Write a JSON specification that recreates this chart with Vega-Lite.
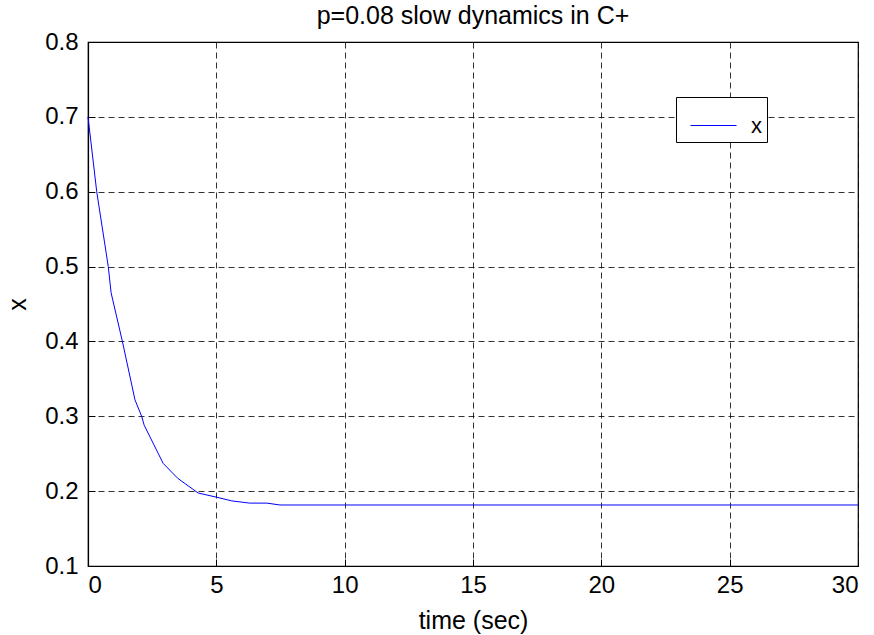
{
  "$schema": "https://vega.github.io/schema/vega-lite/v6.json",
  "autosize": {"type": "none"},
  "padding": {"left": 88, "top": 42, "right": 16, "bottom": 69},
  "width": 770,
  "height": 524,
  "background": "white",
  "title": {
    "text": "p=0.08 slow dynamics in C+",
    "font": "Liberation Sans",
    "fontSize": 25,
    "fontWeight": "normal",
    "color": "black",
    "anchor": "middle",
    "baseline": "bottom",
    "offset": 0,
    "dy": 24
  },
  "config": {
    "view": {"stroke": "black", "strokeWidth": 1.2},
    "axis": {
      "domainColor": "black",
      "domainWidth": 1.2,
      "grid": true,
      "gridColor": "black",
      "gridDash": [6, 4],
      "gridOpacity": 0.8,
      "gridWidth": 1,
      "ticks": true,
      "tickSize": -7,
      "tickColor": "black",
      "tickWidth": 1,
      "labelFont": "Liberation Sans",
      "labelFontSize": 24,
      "labelColor": "black",
      "titleFont": "Liberation Sans",
      "titleFontSize": 25,
      "titleFontWeight": "normal",
      "titleColor": "black"
    }
  },
  "data": {
    "values": [
      {"t": 0, "v": 0.7, "series": "x"},
      {"t": 0.34, "v": 0.6, "series": "x"},
      {"t": 0.79, "v": 0.5, "series": "x"},
      {"t": 0.9, "v": 0.465, "series": "x"},
      {"t": 1.34, "v": 0.4, "series": "x"},
      {"t": 1.83, "v": 0.322, "series": "x"},
      {"t": 2.09, "v": 0.3, "series": "x"},
      {"t": 2.19, "v": 0.288, "series": "x"},
      {"t": 2.93, "v": 0.237, "series": "x"},
      {"t": 3.5, "v": 0.217, "series": "x"},
      {"t": 4.29, "v": 0.1975, "series": "x"},
      {"t": 5.0, "v": 0.192, "series": "x"},
      {"t": 5.6, "v": 0.187, "series": "x"},
      {"t": 6.3, "v": 0.184, "series": "x"},
      {"t": 6.97, "v": 0.184, "series": "x"},
      {"t": 7.48, "v": 0.1815, "series": "x"},
      {"t": 30, "v": 0.1815, "series": "x"}
    ]
  },
  "mark": {"type": "line", "strokeWidth": 1, "interpolate": "linear"},
  "encoding": {
    "x": {
      "field": "t",
      "type": "quantitative",
      "scale": {"domain": [0, 30], "nice": false, "zero": false},
      "axis": {"values": [0, 5, 10, 15, 20, 25, 30], "title": "time (sec)", "labelPadding": 14, "titlePadding": 11}
    },
    "y": {
      "field": "v",
      "type": "quantitative",
      "scale": {"domain": [0.1, 0.8], "nice": false, "zero": false},
      "axis": {"values": [0.1, 0.2, 0.3, 0.4, 0.5, 0.6, 0.7, 0.8], "format": ".1f", "title": "x", "labelPadding": 17, "titlePadding": 14}
    },
    "color": {
      "field": "series",
      "type": "nominal",
      "scale": {"domain": ["x"], "range": ["#0000ff"]},
      "legend": {
        "title": null,
        "orient": "none",
        "legendX": 588,
        "legendY": 55,
        "fillColor": "white",
        "strokeColor": "black",
        "padding": 5,
        "symbolType": "stroke",
        "symbolSize": 2116,
        "symbolStrokeWidth": 1,
        "symbolStrokeColor": "#0000ff",
        "symbolOffset": 9,
        "labelOffset": 14,
        "labelFont": "Liberation Sans",
        "labelFontSize": 22,
        "labelColor": "black"
      }
    }
  }
}
